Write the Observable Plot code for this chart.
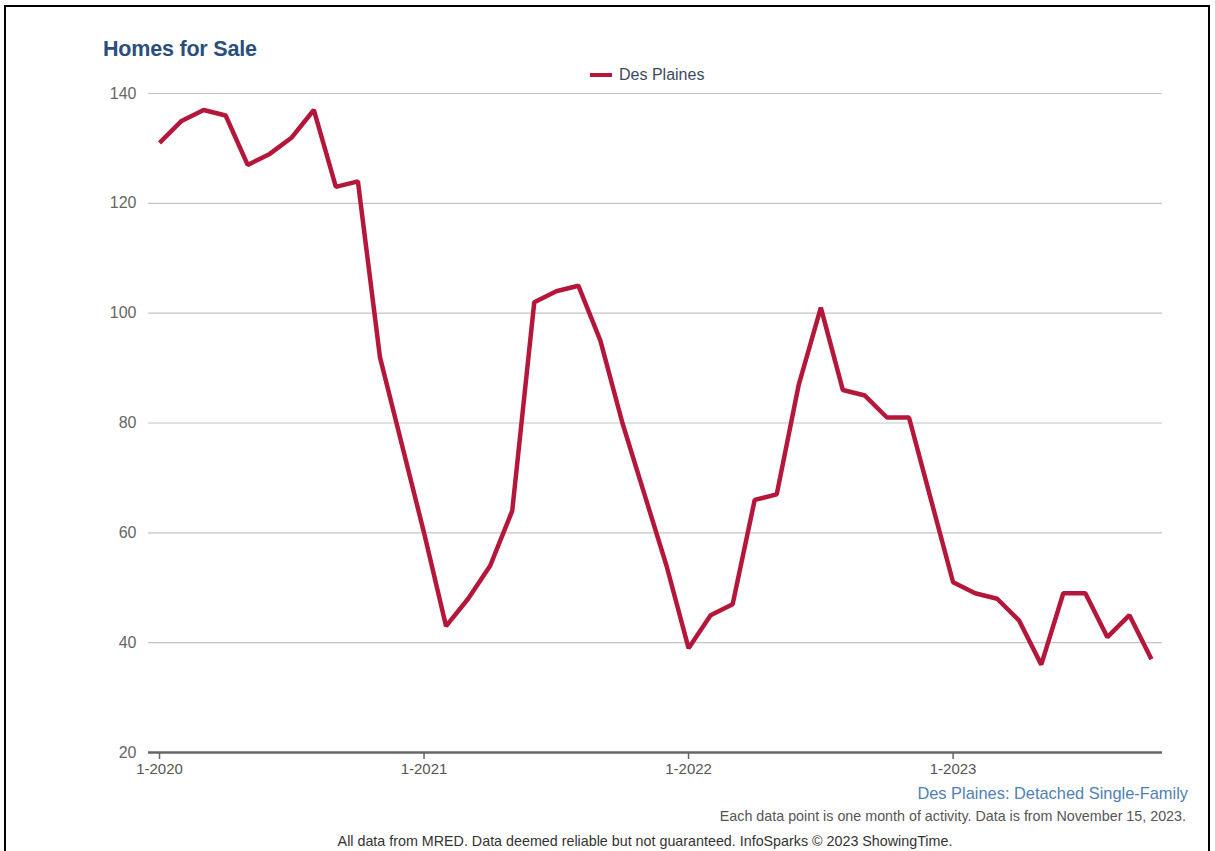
<!DOCTYPE html>
<html>
<head>
<meta charset="utf-8">
<script src="https://cdn.jsdelivr.net/npm/d3@7"></script>
<script src="https://cdn.jsdelivr.net/npm/@observablehq/plot@0.6"></script>
<style>
  html, body { margin: 0; padding: 0; background: #fff; }
  body { font-family: "Liberation Sans", Arial, sans-serif; }
  #page { position: relative; width: 1215px; height: 851px; overflow: hidden; }
  #frame { position: absolute; left: 4px; top: 5px; width: 1206px; height: 900px; border: 2px solid #000; box-sizing: border-box; }
  #title { position: absolute; left: 103px; top: 37px; font-size: 21.5px; font-weight: bold; color: #2b4f7c; letter-spacing: -0.2px; }
  #legend { position: absolute; left: 590px; top: 66px; font-size: 16px; color: #3c4a5e; display: flex; align-items: center; }
  #legend .sw { width: 22px; height: 4px; background: #b5173b; margin-right: 7px; }
  #chart { position: absolute; left: 0; top: 80px; }
  #sub { position: absolute; right: 27px; top: 784px; font-size: 16.4px; color: #4f7fb4; }
  #note { position: absolute; right: 29px; top: 808px; font-size: 14.3px; color: #555; }
  #foot { position: absolute; left: 0; width: 1290px; text-align: center; top: 833px; font-size: 14.3px; color: #333; }
</style>
</head>
<body>
<div id="page">
  <div id="frame"></div>
  <div id="title">Homes for Sale</div>
  <div id="legend"><span class="sw"></span><span>Des Plaines</span></div>
  <div id="chart"></div>
  <div id="sub">Des Plaines: Detached Single-Family</div>
  <div id="note">Each data point is one month of activity. Data is from November 15, 2023.</div>
  <div id="foot">All data from MRED. Data deemed reliable but not guaranteed. InfoSparks © 2023 ShowingTime.</div>
</div>
<script>
// Monthly values, Jan 2020 .. Oct 2023
const homesForSale = [
  131, 135, 137, 136, 127, 129, 132, 137, 123, 124, 92, 76,   // 2020
  60, 43, 48, 54, 64, 102, 104, 105, 95, 80, 67, 54,          // 2021
  39, 45, 47, 66, 67, 87, 101, 86, 85, 81, 81, 66,            // 2022
  51, 49, 48, 44, 36, 49, 49, 41, 45, 37                      // 2023
];
const xTickIndex = [0, 12, 24, 36];
const xTickLabels = ["1-2020", "1-2021", "1-2022", "1-2023"];
const yTicks = [20, 40, 60, 80, 100, 120, 140];

const data = homesForSale.map((v, i) => ({i, v}));
const labelMap = new Map(xTickIndex.map((t, k) => [t, xTickLabels[k]]));

const chart = Plot.plot({
  width: 1215,
  height: 700,
  marginTop: 13,
  marginBottom: 28,
  marginLeft: 148,
  marginRight: 53,
  style: { fontFamily: "'Liberation Sans', Arial, sans-serif", background: "transparent" },
  x: { type: "linear", domain: [-0.5, homesForSale.length - 0.5] },
  y: { domain: [20, 140] },
  marks: [
    Plot.ruleY(yTicks.filter(d => d !== 20), { stroke: "#c4c4c4", strokeWidth: 1.2 }),
    Plot.axisY(yTicks, { tickSize: 0, tickPadding: 12, fontSize: 16, fill: "#666", label: null }),
    Plot.axisX(xTickIndex, { tickSize: 7, tickPadding: 4, fontSize: 15, fill: "#555", stroke: "#666", strokeWidth: 1.5, label: null, tickFormat: d => labelMap.get(d) }),
    Plot.ruleY([20], { stroke: "#666", strokeWidth: 2.5 }),
    Plot.line(data, { x: "i", y: "v", stroke: "#b5173b", strokeWidth: 4.5, strokeLinejoin: "miter", strokeLinecap: "butt" })
  ]
});
document.getElementById("chart").appendChild(chart);
</script>
</body>
</html>
